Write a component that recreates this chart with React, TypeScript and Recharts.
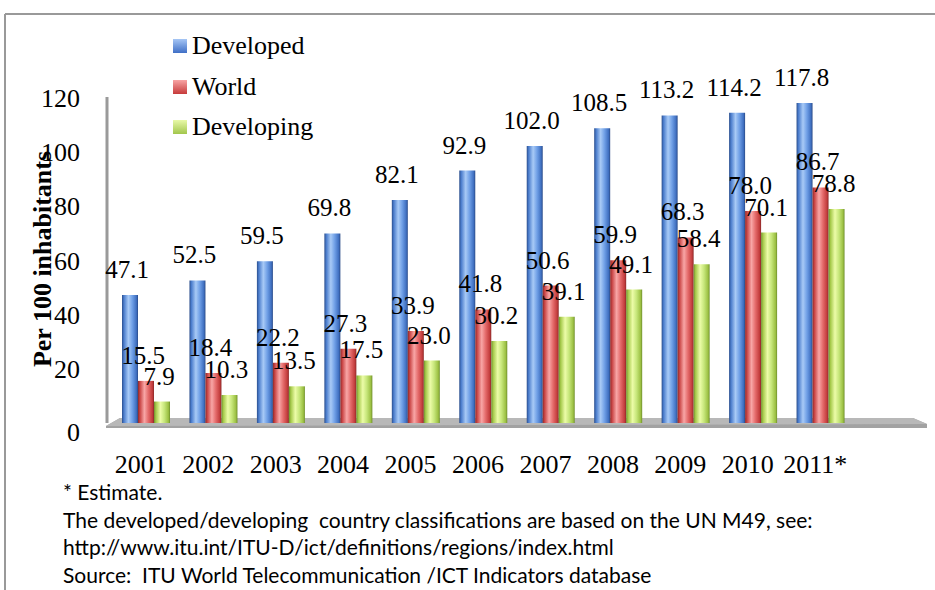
import React from 'react';
import { BarChart, Bar, XAxis, YAxis, Legend, LabelList } from 'recharts';

const years = ['2001', '2002', '2003', '2004', '2005', '2006', '2007', '2008', '2009', '2010', '2011*'];
const developed = [47.1, 52.5, 59.5, 69.8, 82.1, 92.9, 102.0, 108.5, 113.2, 114.2, 117.8];
const world = [15.5, 18.4, 22.2, 27.3, 33.9, 41.8, 50.6, 59.9, 68.3, 78.0, 86.7];
const developing = [7.9, 10.3, 13.5, 17.5, 23.0, 30.2, 39.1, 49.1, 58.4, 70.1, 78.8];
const yTicks = [0, 20, 40, 60, 80, 100, 120];

const footnotes = [
  '* Estimate.',
  'The developed/developing  country classifications are based on the UN M49, see:',
  'http://www.itu.int/ITU-D/ict/definitions/regions/index.html',
  'Source:  ITU World Telecommunication /ICT Indicators database',
];

const data = years.map((year, i) => ({
  year,
  developed: developed[i],
  world: world[i],
  developing: developing[i],
}));

const SERIF = '"Liberation Serif", "Times New Roman", serif';

const series = [
  { key: 'developed', name: 'Developed', grad: 'gBlue', swatch: 'linear-gradient(#a6c6f5, #3f6fc6)' },
  { key: 'world', name: 'World', grad: 'gRed', swatch: 'linear-gradient(#f8a4a4, #c63a3a)' },
  { key: 'developing', name: 'Developing', grad: 'gGreen', swatch: 'linear-gradient(#e8f9a8, #a2c64c)' },
];

const ValueLabel = (props: any) => {
  const { x, y, width, value } = props;
  return (
    <text x={x + width / 2 - 3} y={y - 17} textAnchor="middle" fontFamily={SERIF} fontSize={25} fill="#000">
      {Number(value).toFixed(1)}
    </text>
  );
};

const YTick = ({ x, y, payload }: any) => (
  <text
    x={x - 27}
    y={y + (payload.value === 0 ? 9 : 1)}
    textAnchor="end"
    dominantBaseline="central"
    fontFamily={SERIF}
    fontSize={26}
    fill="#000"
  >
    {payload.value}
  </text>
);

const XTick = ({ x, y, payload }: any) => (
  <text x={x - 5} y={y + 50} textAnchor="middle" fontFamily={SERIF} fontSize={26} fill="#000">
    {payload.value}
  </text>
);

const YTitle = () => (
  <text
    x={42}
    y={259}
    transform="rotate(-90 42 259)"
    textAnchor="middle"
    dominantBaseline="central"
    fontFamily={SERIF}
    fontWeight="bold"
    fontSize={26}
    fill="#000"
  >
    Per 100 inhabitants
  </text>
);

const LegendBox = () => (
  <div style={{ fontFamily: SERIF, fontSize: 26, color: '#000' }}>
    {series.map(s => (
      <div key={s.key} style={{ display: 'flex', alignItems: 'center', height: 40.5 }}>
        <span style={{ width: 14, height: 14, background: s.swatch, marginRight: 5, display: 'inline-block' }} />
        <span>{s.name}</span>
      </div>
    ))}
  </div>
);

const stops = (c: string[]) => [0, 0.12, 0.4, 0.65, 0.9, 1].map((o, i) => (
  <stop key={i} offset={o} stopColor={c[i]} />
));

export default function App() {
  return (
    <div style={{ position: 'absolute', left: 0, top: 0, width: 935, height: 590, background: '#fff' }}>
      {/* frame and 3D floor */}
      <svg width={935} height={590} style={{ position: 'absolute', left: 0, top: 0 }}>
        <line x1={5} y1={14} x2={935} y2={14} stroke="#999" strokeWidth={2} />
        <line x1={5} y1={14} x2={5} y2={590} stroke="#999" strokeWidth={2} />
        <polygon points="106,426 120,418 913,418 927,424 927,428 106,428" fill="#a2a2a2" />
        <polygon points="106,426 120,418 913,418 927,424" fill="#b8b8b8" />
      </svg>
      <div style={{ position: 'absolute', left: 0, top: 0 }}>
        <BarChart
          width={935}
          height={590}
          data={data}
          margin={{ top: 97, right: 17, bottom: 137, left: 0 }}
          barSize={16}
          barGap={0}
        >
          <defs>
            <linearGradient id="gBlue" x1="0" y1="0" x2="1" y2="0">
              {stops(['#2b4e8c', '#4a7ccc', '#a8caf6', '#6f9fe6', '#3f6fc0', '#2a4a86'])}
            </linearGradient>
            <linearGradient id="gRed" x1="0" y1="0" x2="1" y2="0">
              {stops(['#8c2a2a', '#c94444', '#f8a6a6', '#e46a6a', '#c23c3c', '#8a2828'])}
            </linearGradient>
            <linearGradient id="gGreen" x1="0" y1="0" x2="1" y2="0">
              {stops(['#6f8f2e', '#a5c94a', '#ecfca8', '#c6e67a', '#9cc043', '#6e8e2c'])}
            </linearGradient>
          </defs>
          <XAxis
            dataKey="year"
            height={30}
            axisLine={false}
            tickLine={false}
            tickSize={0}
            tickMargin={0}
            padding={{ left: 5, right: 64 }}
            interval={0}
            tick={<XTick />}
          />
          <YAxis
            width={107}
            domain={[0, 120]}
            ticks={yTicks}
            axisLine={{ stroke: '#9a9a9a', strokeWidth: 3 }}
            tickLine={false}
            tickSize={0}
            tickMargin={0}
            tick={<YTick />}
            label={<YTitle />}
          />
          <Legend
            layout="vertical"
            align="center"
            verticalAlign="middle"
            wrapperStyle={{ top: 26, left: 173, width: 'auto' }}
            content={<LegendBox />}
          />
          {series.map(s => (
            <Bar key={s.key} dataKey={s.key} name={s.name} fill={`url(#${s.grad})`} isAnimationActive={false}>
              <LabelList dataKey={s.key} content={<ValueLabel />} />
            </Bar>
          ))}
        </BarChart>
      </div>
      <div
        style={{
          position: 'absolute',
          left: 63,
          top: 478,
          fontFamily: 'Lato, "Open Sans", sans-serif',
          fontSize: 21,
          lineHeight: '27.5px',
          color: '#000',
          whiteSpace: 'pre',
        }}
      >
        {footnotes.map((t, i) => (
          <div key={i}>{t}</div>
        ))}
      </div>
    </div>
  );
}
